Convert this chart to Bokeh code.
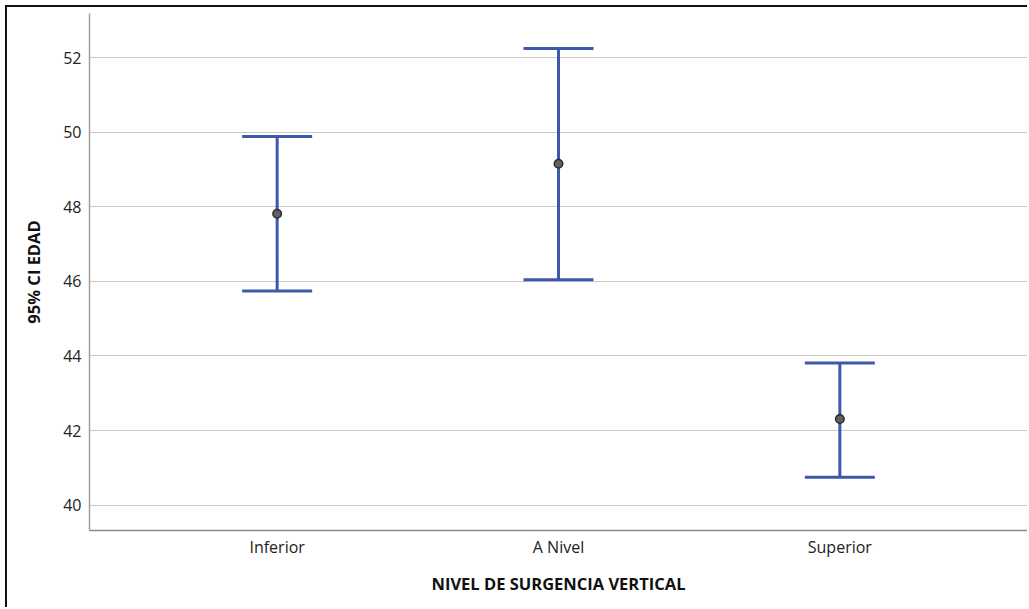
from bokeh.plotting import figure
from bokeh.models import ColumnDataSource, Whisker, TeeHead, FixedTicker, Range1d, FactorRange
from bokeh.embed import file_html
from bokeh.resources import INLINE

categories = ["Inferior", "A Nivel", "Superior"]
means = [47.81, 49.15, 42.31]
lower = [45.74, 46.04, 40.75]
upper = [49.88, 52.24, 43.81]
y_ticks = [40, 42, 44, 46, 48, 50, 52]

BLUE = "#3e58ac"
FONT = "Open Sans"

src = ColumnDataSource(data=dict(cat=categories, mean=means, lower=lower, upper=upper))

p = figure(
    width=1022, height=602,
    x_range=FactorRange(factors=categories, range_padding=0.167, range_padding_units="absolute"),
    y_range=Range1d(39.32, 53.18),
    output_backend="svg", toolbar_location=None,
    min_border_left=82, min_border_right=2, min_border_top=6, min_border_bottom=79,
)
p.styles = {"border-left": "2px solid #111111", "border-top": "2px solid #111111",
            "margin-left": "5px", "margin-top": "5px"}
p.outline_line_color = None
p.background_fill_color = "white"
p.border_fill_color = "white"

w = Whisker(base="cat", upper="upper", lower="lower", source=src,
            line_color=BLUE, line_width=3,
            upper_head=TeeHead(size=70, line_color=BLUE, line_width=3),
            lower_head=TeeHead(size=70, line_color=BLUE, line_width=3))
p.add_layout(w)

p.scatter(x="cat", y="mean", source=src, size=8.5, fill_color="#606060",
          line_color="#2a2a2a", line_width=1.5)

p.xgrid.grid_line_color = None
p.ygrid.grid_line_color = "#c8c8c8"
p.ygrid.grid_line_width = 1
p.yaxis.ticker = FixedTicker(ticks=y_ticks)

for ax in (p.xaxis[0], p.yaxis[0]):
    ax.major_tick_line_color = None
    ax.minor_tick_line_color = None
    ax.major_tick_out = 0
    ax.major_tick_in = 0
    ax.minor_tick_out = 0
    ax.major_label_text_font = FONT
    ax.major_label_text_font_size = "16px"
    ax.major_label_text_color = "#222222"
    ax.axis_label_text_font = FONT
    ax.axis_label_text_font_size = "16.5px"
    ax.axis_label_text_font_style = "bold"
    ax.axis_label_text_color = "#111111"

p.yaxis.axis_line_color = "#a0a0a0"
p.yaxis.axis_line_width = 1.5
p.xaxis.axis_line_color = "#8a8a8a"
p.xaxis.axis_line_width = 1.5
p.yaxis.axis_label = "95% CI EDAD"
p.xaxis.axis_label = "NIVEL DE SURGENCIA VERTICAL"
p.yaxis.major_label_standoff = 8
p.xaxis.major_label_standoff = 5
p.yaxis.axis_label_standoff = 15
p.xaxis.axis_label_standoff = 11

open("out.html", "w").write(file_html(p, INLINE))
